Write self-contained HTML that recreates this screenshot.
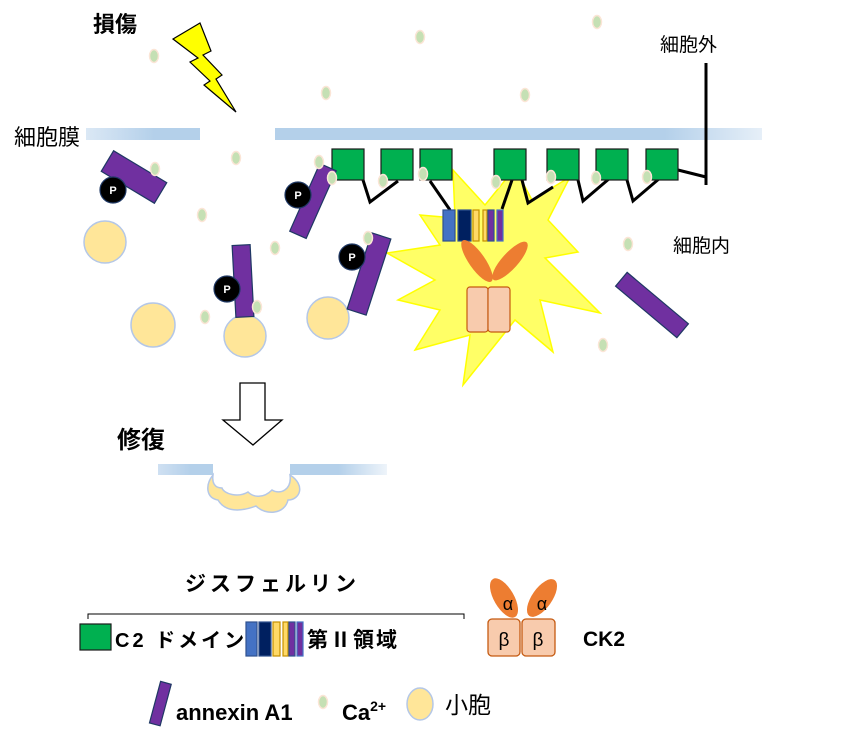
<!DOCTYPE html>
<html><head><meta charset="utf-8"><style>
html,body{margin:0;padding:0;background:#fff;}
svg{display:block;}
text{font-family:"Liberation Sans","Noto Sans CJK JP",sans-serif;fill:#000;}
</style></head><body>
<svg width="850" height="742" viewBox="0 0 850 742" xmlns="http://www.w3.org/2000/svg">
<defs>
<linearGradient id="mL" x1="0" x2="1"><stop offset="0" stop-color="#dbe8f5"/><stop offset="0.6" stop-color="#b4d0ea"/><stop offset="1" stop-color="#b4d0ea"/></linearGradient>
<linearGradient id="mR" x1="0" x2="1"><stop offset="0" stop-color="#b4d0ea"/><stop offset="0.8" stop-color="#b4d0ea"/><stop offset="1" stop-color="#e6eff8"/></linearGradient>
<linearGradient id="rL" x1="0" x2="1"><stop offset="0" stop-color="#cfe0f2"/><stop offset="0.6" stop-color="#b4d0ea"/><stop offset="1" stop-color="#b4d0ea"/></linearGradient>
<linearGradient id="rR" x1="0" x2="1"><stop offset="0" stop-color="#b4d0ea"/><stop offset="0.5" stop-color="#b4d0ea"/><stop offset="1" stop-color="#eef4fa"/></linearGradient>
<g id="ca"><ellipse cx="0" cy="0" rx="4.5" ry="6.5" fill="#c5e0b4" stroke="#fbe5d6" stroke-width="1.5"/></g>
</defs>

<!-- labels -->
<text x="93" y="32" font-size="22" font-weight="bold">損傷</text>
<text x="14" y="145" font-size="22">細胞膜</text>
<text x="660" y="51" font-size="19">細胞外</text>
<text x="673" y="252" font-size="19">細胞内</text>
<text x="117" y="448" font-size="24" font-weight="bold">修復</text>

<!-- lightning -->
<polygon points="173,39 200,23 211,51 203,55 222,75 216,79 236,112 204,85 210,81 190,62 198,58" fill="#ffff00" stroke="#000" stroke-width="1.2"/>

<!-- membrane -->
<rect x="86" y="128" width="114" height="12" fill="url(#mL)"/>
<rect x="275" y="128" width="487" height="12" fill="url(#mR)"/>

<line x1="706" y1="63" x2="706" y2="185" stroke="#000" stroke-width="3"/>

<!-- starburst -->
<polygon points="453,170 485,205 515,168 532,200 570,177 548,220 578,252 545,258 600,313 540,300 553,352 515,320 463,385 470,335 415,350 440,310 398,300 435,280 387,253 440,245 420,215 455,218" fill="#ffff66" stroke="#ffff00" stroke-width="1.5"/>

<!-- connectors -->
<g stroke="#000" stroke-width="3" fill="none">
<polyline points="363,180 370,202 398,181"/>
<line x1="430" y1="181" x2="450" y2="210"/>
<line x1="512" y1="180" x2="502" y2="209"/>
<polyline points="522,180 528,203 553,187"/>
<polyline points="578,180 583,201 610,178"/>
<polyline points="627,180 633,201 660,178"/>
<line x1="678" y1="170" x2="706" y2="177"/>
</g>

<g fill="#00b050" stroke="#1a1a1a" stroke-width="1.2">
<rect x="332" y="149" width="32" height="31"/>
<rect x="381" y="149" width="32" height="31"/>
<rect x="420" y="149" width="32" height="31"/>
<rect x="494" y="149" width="32" height="31"/>
<rect x="547" y="149" width="32" height="31"/>
<rect x="596" y="149" width="32" height="31"/>
<rect x="646" y="149" width="32" height="31"/>
</g>

<g stroke-width="1.2">
<rect x="443" y="210" width="12" height="31" fill="#4472c4" stroke="#2f528f"/>
<rect x="458" y="210" width="13" height="31" fill="#002060" stroke="#2f528f"/>
<rect x="473" y="210" width="6" height="31" fill="#ffd966" stroke="#c59000"/>
<rect x="483" y="210" width="4" height="31" fill="#ffd966" stroke="#c59000"/>
<rect x="488" y="210" width="6" height="31" fill="#7030a0" stroke="#2f528f"/>
<rect x="497" y="210" width="6" height="31" fill="#7030a0" stroke="#4472c4"/>
</g>

<!-- CK2 in scene -->
<ellipse cx="477" cy="261" rx="8" ry="25" fill="#ed7d31" transform="rotate(-35 477 261)"/>
<ellipse cx="510" cy="261" rx="8" ry="25" fill="#ed7d31" transform="rotate(42 510 261)"/>
<rect x="467" y="287" width="21" height="45" rx="3" fill="#f8cbad" stroke="#c55a11" stroke-width="1.2"/>
<rect x="488" y="287" width="22" height="45" rx="3" fill="#f8cbad" stroke="#c55a11" stroke-width="1.2"/>

<g fill="#ffe699" stroke="#b4c7e7" stroke-width="1.5">
<circle cx="105" cy="242" r="21"/>
<circle cx="153" cy="325" r="22"/>
<circle cx="245" cy="336" r="21"/>
<circle cx="328" cy="318" r="21"/>
</g>

<g fill="#7030a0" stroke="#1f3864" stroke-width="1.2">
<rect x="-31" y="-12" width="62" height="24" transform="translate(134 177) rotate(31)"/>
<rect x="-9" y="-36" width="18" height="72" transform="translate(243 281) rotate(-3)"/>
<rect x="-9" y="-37" width="18" height="74" transform="translate(313 201) rotate(24)"/>
<rect x="-10" y="-40" width="20" height="80" transform="translate(369 274) rotate(18)"/>
<rect x="-40" y="-9" width="80" height="18" transform="translate(652 305) rotate(40)"/>
<rect x="-5" y="-21" width="11" height="43" transform="translate(160 703) rotate(15)"/>
</g>

<g fill="#000" stroke="#1f3864" stroke-width="1.2">
<circle cx="113" cy="190" r="13"/>
<circle cx="227" cy="289" r="13"/>
<circle cx="298" cy="195" r="13"/>
<circle cx="352" cy="257" r="13"/>
</g>
<g font-size="11" font-weight="bold" text-anchor="middle">
<text x="113" y="194" style="fill:#fff">P</text>
<text x="227" y="293" style="fill:#fff">P</text>
<text x="298" y="199" style="fill:#fff">P</text>
<text x="352" y="261" style="fill:#fff">P</text>
</g>

<use href="#ca" x="154" y="56"/><use href="#ca" x="326" y="93"/><use href="#ca" x="420" y="37"/>
<use href="#ca" x="597" y="22"/><use href="#ca" x="525" y="95"/><use href="#ca" x="236" y="158"/>
<use href="#ca" x="155" y="169"/><use href="#ca" x="202" y="215"/><use href="#ca" x="275" y="248"/>
<use href="#ca" x="205" y="317"/><use href="#ca" x="257" y="307"/><use href="#ca" x="319" y="162"/>
<use href="#ca" x="332" y="178"/><use href="#ca" x="383" y="181"/><use href="#ca" x="423" y="174"/>
<use href="#ca" x="496" y="182"/><use href="#ca" x="551" y="177"/><use href="#ca" x="596" y="178"/>
<use href="#ca" x="647" y="177"/><use href="#ca" x="368" y="238"/><use href="#ca" x="628" y="244"/>
<use href="#ca" x="603" y="345"/><use href="#ca" x="323" y="702"/>

<polygon points="240,383 265,383 265,420 282,420 253,445 223,420 240,420" fill="#fff" stroke="#000" stroke-width="1.3"/>

<rect x="158" y="464" width="55" height="11" fill="url(#rL)"/>
<rect x="290" y="464" width="97" height="11" fill="url(#rR)"/>
<path d="M213,475 C205,485 206,498 218,500 C225,512 240,512 256,506 C266,516 285,514 288,500 C300,500 306,485 290,475 C292,490 280,495 272,490 C262,500 252,496 248,492 C238,498 224,494 222,488 C214,488 212,482 213,475 Z" fill="#ffe699" stroke="#b4c7e7" stroke-width="1.5"/>

<!-- legend -->
<text x="185" y="591" font-size="21" font-weight="bold" letter-spacing="4">ジスフェルリン</text>
<polyline points="88,619 88,614 464,614 464,619" fill="none" stroke="#000" stroke-width="1"/>
<rect x="80" y="624" width="31" height="26" fill="#00b050" stroke="#1a1a1a" stroke-width="1.2"/>
<text x="115" y="647" font-size="20" font-weight="bold" letter-spacing="3">C2 ドメイン</text>
<g stroke-width="1.2">
<rect x="246" y="622" width="11" height="34" fill="#4472c4" stroke="#2f528f"/>
<rect x="259" y="622" width="12" height="34" fill="#002060" stroke="#2f528f"/>
<rect x="273" y="622" width="7" height="34" fill="#ffd966" stroke="#c59000"/>
<rect x="283" y="622" width="5" height="34" fill="#ffd966" stroke="#c59000"/>
<rect x="289" y="622" width="6" height="34" fill="#7030a0" stroke="#2f528f"/>
<rect x="297" y="622" width="6" height="34" fill="#7030a0" stroke="#4472c4"/>
</g>
<text x="307" y="647" font-size="21" font-weight="bold" letter-spacing="2">第Ⅱ領域</text>

<ellipse cx="504" cy="598" rx="10" ry="22" fill="#ed7d31" transform="rotate(-30 504 598)"/>
<ellipse cx="542" cy="598" rx="10" ry="22" fill="#ed7d31" transform="rotate(35 542 598)"/>
<text x="508" y="610" font-size="18" text-anchor="middle">α</text>
<text x="542" y="610" font-size="18" text-anchor="middle">α</text>
<rect x="488" y="619" width="32" height="37" rx="4" fill="#f8cbad" stroke="#c55a11" stroke-width="1.3"/>
<rect x="522" y="619" width="33" height="37" rx="4" fill="#f8cbad" stroke="#c55a11" stroke-width="1.3"/>
<text x="504" y="646" font-size="19" text-anchor="middle">β</text>
<text x="538" y="646" font-size="19" text-anchor="middle">β</text>
<text x="583" y="646" font-size="21" font-weight="bold">CK2</text>

<text x="176" y="720" font-size="22" font-weight="bold">annexin A1</text>
<text x="342" y="720" font-size="22" font-weight="bold">Ca<tspan font-size="14" dy="-9">2+</tspan></text>
<ellipse cx="420" cy="704" rx="13" ry="16" fill="#ffe699" stroke="#b4c7e7" stroke-width="1.5"/>
<text x="445" y="713" font-size="23">小胞</text>
</svg>
</body></html>
